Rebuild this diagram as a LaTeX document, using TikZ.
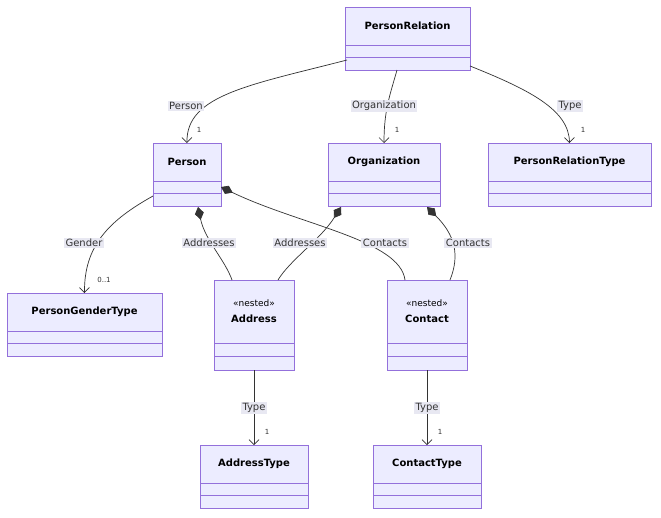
\documentclass[tikz,border=0pt]{standalone}
\usepackage{fontspec}
\setmainfont{DejaVu Sans}
\usetikzlibrary{arrows.meta}
\definecolor{cfill}{HTML}{ECECFF}
\definecolor{cstroke}{HTML}{9370DB}
\definecolor{lbg}{HTML}{E8E8F2}
\definecolor{edge}{HTML}{333333}
\tikzset{
 lab/.style={fill=lbg,inner sep=1.5pt,font=\fontsize{10}{12}\selectfont,text=edge},
 mul/.style={font=\fontsize{7}{8}\selectfont,text=edge},
 ed/.style={draw=edge,line width=0.7pt},
 arr/.style={ed,-{Straight Barb[length=5pt,width=10pt]}},
 comp/.style={ed,{Diamond[length=13pt,width=9pt,fill=edge]}-},
}
\newcommand{\umlbox}[7]{% name, x1,y1,x2,y2, titlebottom, text
 \draw[fill=cfill,draw=cstroke,line width=0.8pt] (#2,#3) rectangle (#4,#5);
 \draw[draw=cstroke,line width=0.8pt] (#2,#6) -- (#4,#6);
 \draw[draw=cstroke,line width=0.8pt] (#2,{(#6+#5)/2}) -- (#4,{(#6+#5)/2});
 \node[inner sep=0pt] (#1) at ({(#2+#4)/2},{(#3+#5)/2}) {};
 \coordinate (#1-n) at ({(#2+#4)/2},#3);
 \coordinate (#1-s) at ({(#2+#4)/2},#5);
 \node[font=\fontsize{10}{12}\selectfont\bfseries,text=black,align=center] (#1-t) at ({(#2+#4)/2},{(#3+#6)/2}) {#7};
}
\begin{document}
\begin{tikzpicture}[x=1pt,y=-1pt]
\useasboundingbox (0,0) rectangle (661,517);
\fill[white] (0,0) rectangle (661,517);
\umlbox{pr}{345}{7}{470}{70}{45}{PersonRelation}
\umlbox{p}{153}{143}{221}{206}{181}{Person}
\umlbox{o}{328}{143}{440}{206}{181}{Organization}
\umlbox{prt}{488}{143}{651}{206}{181}{PersonRelationType}
\umlbox{pg}{7}{293}{162}{356}{331}{PersonGenderType}
\umlbox{a}{214}{280}{294}{370}{343}{{\normalfont\fontsize{9}{11}\selectfont «nested»}\\[4pt]Address}
\umlbox{c}{387}{280}{467}{370}{343}{{\normalfont\fontsize{9}{11}\selectfont «nested»}\\[4pt]Contact}
\umlbox{at}{200}{445}{308}{508}{483}{AddressType}
\umlbox{ct}{373}{445}{481}{508}{483}{ContactType}
% PersonRelation edges
\coordinate (s1) at (347,60);
\draw[arr] (s1) .. controls (250,85) and (186,95) .. (p-n);
\node[lab] at (186,106) {Person};
\node[mul] at (199,130) {1};
\coordinate (s2) at (397,70);
\draw[arr] (s2) .. controls (390,95) and (384,110) .. (o-n);
\node[lab] at (384,106) {Organization};
\node[mul] at (397,130) {1};
\coordinate (s3) at (470,66);
\draw[arr] (s3) .. controls (530,90) and (569,110) .. (prt-n);
\node[lab] at (570,106) {Type};
\node[mul] at (583,130) {1};
% Person edges
\coordinate (g1) at (153,196);
\draw[arr] (g1) .. controls (110,220) and (84,245) .. (pg-n);
\node[lab] at (84,243) {Gender};
\node[mul] at (104,280) {0..1};
\coordinate (d1) at (198,207);
\coordinate (a1) at (232,280);
\draw[comp] (d1) .. controls (205,240) and (225,260) .. (a1);
\node[lab] at (209,243) {Addresses};
\coordinate (d2) at (221,187);
\coordinate (c1) at (405,280);
\draw[comp] (d2) .. controls (300,225) and (400,240) .. (c1);
\node[lab] at (385,243) {Contacts};
% Organization edges
\coordinate (d3) at (341,207);
\coordinate (a2) at (278,280);
\draw[comp] (d3) .. controls (320,240) and (290,260) .. (a2);
\node[lab] at (300,243) {Addresses};
\coordinate (d4) at (427,207);
\coordinate (c2) at (450,280);
\draw[comp] (d4) .. controls (455,235) and (460,255) .. (c2);
\node[lab] at (468,243) {Contacts};
% Type edges
\draw[arr] (a-s) -- (at-n);
\node[lab] at (254,408) {Type};
\node[mul] at (267,432) {1};
\draw[arr] (c-s) -- (ct-n);
\node[lab] at (427,408) {Type};
\node[mul] at (440,432) {1};
\end{tikzpicture}
\end{document}
